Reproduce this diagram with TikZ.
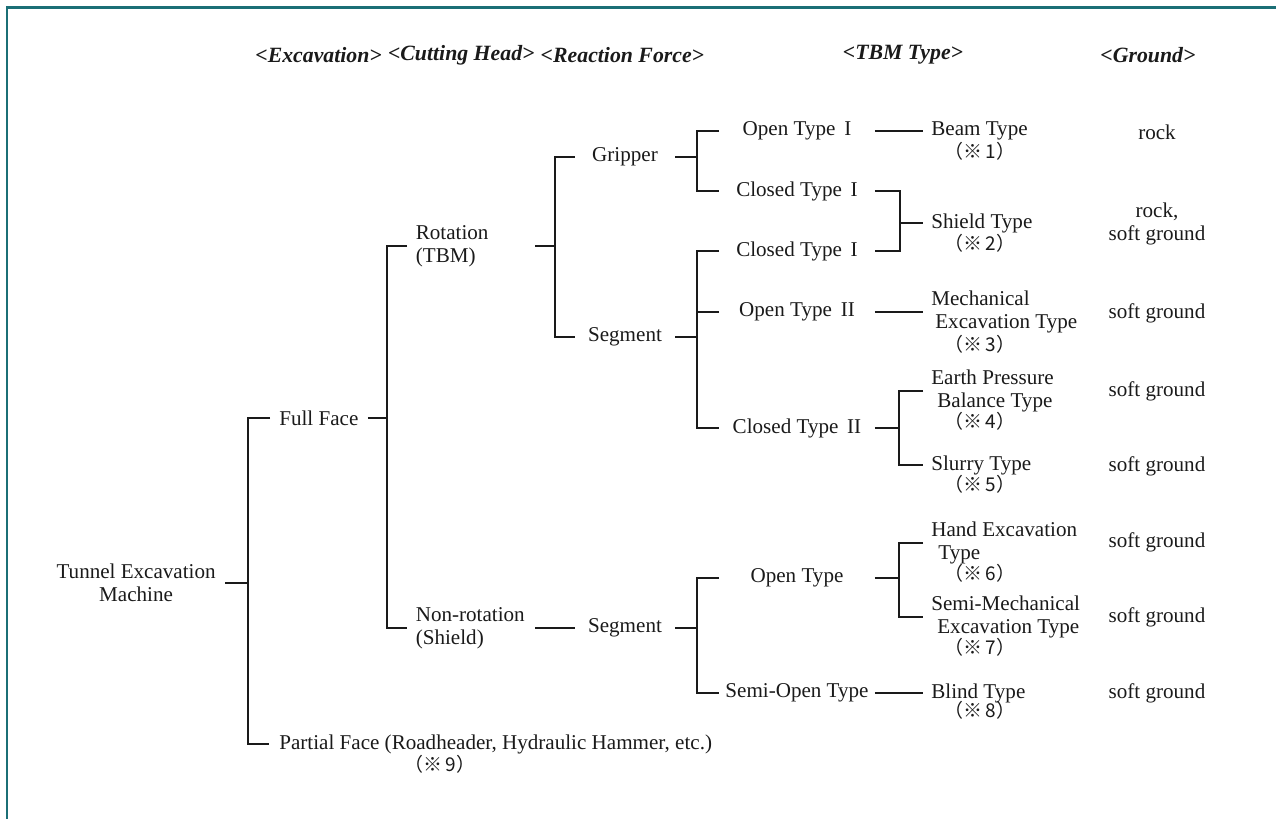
\documentclass[tikz,border=0pt]{standalone}
\usepackage{fontspec}
\setmainfont{Liberation Serif}
\newfontfamily\cjk{Noto Sans CJK JP}
\usetikzlibrary{positioning}
\definecolor{cadre}{HTML}{1B6F76}
\definecolor{trait}{HTML}{1A1A1A}
\tikzset{
  lbl/.style={inner xsep=#1, inner ysep=0pt, font=\fontsize{12}{13.2}\selectfont,
              text=trait, align=center},
  lbl/.default=0pt,
  ttype/.style={lbl, minimum width=3.1cm},
  rforce/.style={lbl, minimum width=2cm},
  mtype/.style={lbl=0.16cm, anchor=west, align=left},
  chead/.style={lbl=0.17cm, anchor=west, align=left, text width=2.21cm},
  hdr/.style={inner sep=0pt, font=\fontsize{12.4}{14}\selectfont\bfseries\itshape, text=trait},
  note/.style={inner sep=0pt, font=\cjk\fontsize{10.8}{12}\selectfont, text=trait},
  conn/.style={line width=1.25pt, draw=trait},
}

\begin{document}
\begin{tikzpicture}[x=0.02cm, y=-0.02cm]
  \useasboundingbox (0,0) rectangle (1276,819);
  \draw[cadre, line width=0.06cm] (7,819) -- (7,7) -- (1276,7);

  % column heads
  \node[hdr, anchor=west] (hExc) at (255,55) {<Excavation>};
  \node[hdr, right=0.11cm of hExc] (hCut) {<Cutting Head>};
  \node[hdr, right=0.11cm of hCut] (hReac) {<Reaction Force>};
  \node[hdr] (hTbm) at (903,55) {<TBM Type>};
  \node[hdr] (hGnd) at (1148,55) {<Ground>};

  % excavation / cutting head / reaction force
  \node[lbl=0.18cm, anchor=east] (root) at (225,583) {Tunnel Excavation\\Machine};
  \node[lbl=0.18cm, anchor=west] (ff) at (270,418) {Full Face};
  \node[lbl=0.2cm, anchor=west] (pf) at (269,744) {Partial Face (Roadheader, Hydraulic Hammer, etc.)};
  \node[note] (n9) at (440,764) {（※\,9）};
  \node[chead] (rot) at (407,246) {Rotation\\(TBM)};
  \node[chead] (nonrot) at (407,628) {Non-rotation\\(Shield)};
  \node[rforce] (grip) at (625,157) {Gripper};
  \node[rforce] (seg1) at (625,337) {Segment};
  \node[rforce] (seg2) at (625,628) {Segment};

  % TBM type, first column
  \node[ttype] (ot1) at (797,131) {Open Type~\,I};
  \node[ttype] (ct1a) at (797,191) {Closed Type~\,I};
  \node[ttype] (ct1b) at (797,251) {Closed Type~\,I};
  \node[ttype] (ot2) at (797,312) {Open Type~\,II};
  \node[ttype] (ct2) at (797,428) {Closed Type~\,II};
  \node[ttype] (ot) at (797,578) {Open Type};
  \node[ttype] (sot) at (797,693) {Semi-Open Type};

  % TBM type, second column
  \node[mtype] (beam) at (923,131) {Beam Type};
  \node[mtype] (shield) at (923,223) {Shield Type};
  \node[mtype] (mech) at (923,312) {Mechanical\\\hspace*{0.08cm}Excavation Type};
  \node[mtype] (epb) at (923,391) {Earth Pressure\\\hspace*{0.12cm}Balance Type};
  \node[mtype] (slurry) at (923,465) {Slurry Type};
  \node[mtype] (hand) at (923,543) {Hand Excavation\\\hspace*{0.14cm}Type};
  \node[mtype] (semimech) at (923,617) {Semi-Mechanical\\\hspace*{0.12cm}Excavation Type};
  \node[mtype] (blind) at (923,693) {Blind Type};
  \node[note] (n1) at (980,151) {（※\,1）};
  \node[note] (n2) at (980,243) {（※\,2）};
  \node[note] (n3) at (980,344) {（※\,3）};
  \node[note] (n4) at (980,421) {（※\,4）};
  \node[note] (n5) at (980,484) {（※\,5）};
  \node[note] (n6) at (980,573) {（※\,6）};
  \node[note] (n7) at (980,647) {（※\,7）};
  \node[note] (n8) at (980,710) {（※\,8）};

  % ground
  \node[lbl] (g1) at (1157,132) {rock};
  \node[lbl] (g2) at (1157,224) {rock,\\soft ground};
  \node[lbl] (g3) at (1157,313) {soft ground};
  \node[lbl] (g4) at (1157,391) {soft ground};
  \node[lbl] (g5) at (1157,466) {soft ground};
  \node[lbl] (g6) at (1157,542) {soft ground};
  \node[lbl] (g7) at (1157,617) {soft ground};
  \node[lbl] (g8) at (1157,693) {soft ground};

  % bracket spines
  \coordinate (sp1) at (248,583);
  \coordinate (sp2) at (387,418);
  \coordinate (sp3) at (555,246);
  \coordinate (sp4) at (697,157);
  \coordinate (sp5) at (697,337);
  \coordinate (sp6) at (900,223);
  \coordinate (sp7) at (899,428);
  \coordinate (sp8) at (697,628);
  \coordinate (sp9) at (899,578);

  \draw[conn] (root.east) -- (sp1);
  \draw[conn] (ff.west) -| (sp1) |- (pf.west);
  \draw[conn] (ff.east) -- (sp2);
  \draw[conn] (rot.west) -| (sp2) |- (nonrot.west);
  \draw[conn] (rot.east) -- (sp3);
  \draw[conn] (grip.west) -| (sp3) |- (seg1.west);
  \draw[conn] (grip.east) -- (sp4);
  \draw[conn] (ot1.west) -| (sp4) |- (ct1a.west);
  \draw[conn] (seg1.east) -- (sp5);
  \draw[conn] (ct1b.west) -| (sp5) |- (ct2.west);
  \draw[conn] (ot2.west) -- (ot2.west -| sp5);
  \draw[conn] (nonrot.east) -- (seg2.west);
  \draw[conn] (seg2.east) -- (sp8);
  \draw[conn] (ot.west) -| (sp8) |- (sot.west);

  \draw[conn] (ot1.east) -- (beam.west);
  \draw[conn] (ct1a.east) -| (sp6) |- (ct1b.east);
  \draw[conn] (sp6) -- (shield.west);
  \draw[conn] (ot2.east) -- (mech.west);
  \draw[conn] (ct2.east) -- (sp7);
  \draw[conn] (epb.west) -| (sp7) |- (slurry.west);
  \draw[conn] (ot.east) -- (sp9);
  \draw[conn] (hand.west) -| (sp9) |- (semimech.west);
  \draw[conn] (sot.east) -- (blind.west);
\end{tikzpicture}
\end{document}
